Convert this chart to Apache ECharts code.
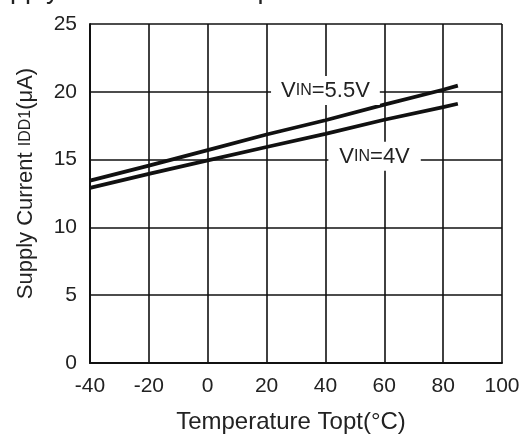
<!DOCTYPE html>
<html>
<head>
<meta charset="utf-8">
<script src="https://cdn.jsdelivr.net/npm/echarts@6/dist/echarts.min.js"></script>
<style>html,body{margin:0;padding:0;background:#fff;}#c{width:524px;height:439px;}</style>
</head>
<body>
<div id="c"></div>
<script>
var temperatures = [-40, -20, 0, 20, 40, 60, 80, 85];
var vin55 = [13.45, 14.55, 15.7, 16.85, 17.9, 19.05, 20.15, 20.45];
var vin4 = [12.92, 13.95, 14.95, 15.93, 16.9, 17.94, 18.87, 19.12];
var xTicks = [-40, -20, 0, 20, 40, 60, 80, 100];
var yTicks = [0, 5, 10, 15, 20, 25];
var titleText = 'Supply Current vs. Temperature';
var xName = 'Temperature Topt(°C)';
var label55 = 'V{s|IN}=5.5V';
var label4 = 'V{s|IN}=4V';

function pairs(xs, ys) { return xs.map(function (x, i) { return [x, ys[i]]; }); }

var font = 'Liberation Sans, Arial, Helvetica, sans-serif';
var chart = echarts.init(document.getElementById('c'));
var labelStyle = function (pad) {
  return {
    show: true, position: 'inside', color: '#222', fontFamily: font, fontSize: 22,
    backgroundColor: '#fff', padding: pad,
    formatter: function (p) { return p.name; },
    rich: { s: { fontSize: 16, fontFamily: font, color: '#222' } }
  };
};
chart.setOption({
  animation: false,
  title: {
    text: titleText, left: -28, top: -28,
    textStyle: { fontFamily: font, fontSize: 27, fontWeight: 'normal', color: '#222' }
  },
  grid: { left: 90, right: 22, top: 24, bottom: 75 },
  xAxis: {
    type: 'value', min: -40, max: 100, interval: 20,
    name: xName, nameLocation: 'middle', nameGap: 47,
    nameTextStyle: { fontFamily: font, fontSize: 24, color: '#222', padding: [0, 10, 0, 0] },
    axisLine: { show: true, onZero: false, lineStyle: { color: '#111', width: 2 } },
    axisTick: { show: false },
    axisLabel: { fontFamily: font, fontSize: 21, color: '#222', margin: 13,
      formatter: function (v) { return xTicks.indexOf(v) >= 0 ? String(v) : ''; } },
    splitLine: { show: true, lineStyle: { color: '#111', width: 1.6 } }
  },
  yAxis: {
    type: 'value', min: 0, max: 25, interval: 5,
    name: 'Supply Current {s|IDD1}(μA)', nameLocation: 'middle', nameGap: 53,
    nameTextStyle: { fontFamily: font, fontSize: 22, color: '#222', padding: [0, 0, 0, 20],
      rich: { s: { fontFamily: font, fontSize: 16, color: '#222' } } },
    axisLine: { show: true, onZero: false, lineStyle: { color: '#111', width: 2 } },
    axisTick: { show: false },
    axisLabel: { fontFamily: font, fontSize: 21, color: '#222', margin: 13,
      formatter: function (v) { return yTicks.indexOf(v) >= 0 ? String(v) : ''; } },
    splitLine: { show: true, lineStyle: { color: '#111', width: 1.6 } }
  },
  series: [
    {
      type: 'line', data: pairs(temperatures, vin55), showSymbol: false, smooth: false,
      lineStyle: { color: '#111', width: 3.8 }, z: 3,
      markPoint: {
        symbol: 'circle', symbolSize: 1, itemStyle: { color: 'rgba(0,0,0,0)' },
        label: labelStyle([4, 10, 3, 10]),
        data: [{ name: label55, coord: [40, 20.1] }], z: 5
      }
    },
    {
      type: 'line', data: pairs(temperatures, vin4), showSymbol: false, smooth: false,
      lineStyle: { color: '#111', width: 3.8 }, z: 3,
      markPoint: {
        symbol: 'circle', symbolSize: 1, itemStyle: { color: 'rgba(0,0,0,0)' },
        label: labelStyle([4, 11, 3, 11]),
        data: [{ name: label4, coord: [56.7, 15.25] }], z: 5
      }
    }
  ]
});
</script>
</body>
</html>
